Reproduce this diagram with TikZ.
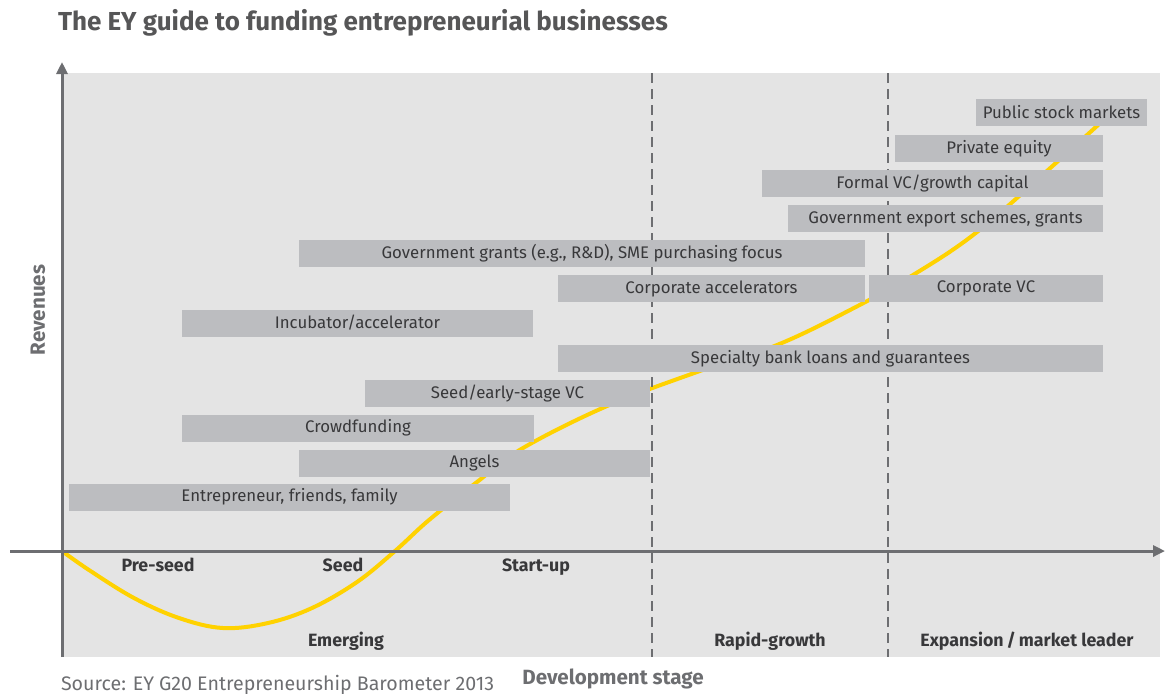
\documentclass[tikz,border=0pt]{standalone}
\usepackage{fontspec}
\setmainfont{Fira Sans}
\usepackage{xcolor}
\usepackage{tikz}
\usetikzlibrary{arrows.meta, positioning}
\definecolor{eygrey}{HTML}{6D6E71}
\definecolor{eybar}{HTML}{BCBDC0}
\definecolor{eypanel}{HTML}{E4E4E4}
\definecolor{eyyellow}{HTML}{FFD200}
\definecolor{eyink}{HTML}{38383A}
\tikzset{
  bar/.style={fill=eybar, minimum height=13.5pt, inner sep=0pt, font=\fontsize{8.4}{9}\selectfont, text=eyink},
  stage/.style={font=\fontsize{8.9}{10}\selectfont\bfseries, text=eyink, anchor=base},
  axlbl/.style={font=\fontsize{10.3}{11}\selectfont\bfseries, text=eygrey},
  arr/.style={-{Triangle[length=6pt, width=5.5pt]}, line width=1.5pt, eygrey},
  divider/.style={dash pattern=on 5pt off 3pt, line width=0.9pt, eygrey},
  curve/.style={line width=2pt, eyyellow}
}

\begin{document}
\begin{tikzpicture}[x=0.5pt, y=-0.5pt]
    \useasboundingbox (0,0) rectangle (1165,693);
    \fill[eypanel] (62,73) rectangle (1160,657);

    \coordinate (o) at (62,551);
    \coordinate (xend) at (1165,551);
    \coordinate (yend) at (62,62);
    \coordinate (xstart) at (10,551);
    \coordinate (ybot) at (62,657);

    % growth curve, under the bars
    \draw[curve] plot[smooth, tension=0.6] coordinates {(o) (89,570) (134,598) (179,618) (223,628) (268,623)
      (312,608) (357,582) (395,551) (429,520) (477,482) (523,448) (607,406) (697,372) (777,345) (850,310)
      (913,275) (977,232) (1057,162) (1120,105)};

    % stage dividers
    \draw[divider] (652,73) -- (652,657);
    \draw[divider] (888,73) -- (888,657);

    \draw[arr] (xstart) -- (xend);
    \draw[arr] (ybot) -- (yend);

    \node[bar, minimum width=85.5pt] (psm) at (1061.5,112.5) {Public stock markets};
    \node[bar, minimum width=104pt] (pe) at (999,148.5) {Private equity};
    \node[bar, minimum width=170.5pt] (fvc) at (932.5,183.5) {Formal VC/growth capital};
    \node[bar, minimum width=157.5pt] (ges) at (945.5,218.5) {Government export schemes, grants};
    \node[bar, minimum width=283pt] (ggr) at (582,253.5) {Government grants (e.g., R\&D), SME purchasing focus};
    \node[bar, minimum width=153.5pt] (cac) at (711.5,288.5) {Corporate accelerators};
    \node[bar, minimum width=117pt] (cvc) at (986,288.5) {Corporate VC};
    \node[bar, minimum width=175.5pt] (inc) at (357.5,323) {Incubator/accelerator};
    \node[bar, minimum width=272.5pt] (sbl) at (830.5,358.5) {Specialty bank loans and guarantees};
    \node[bar, minimum width=142.5pt] (sev) at (507.5,393) {Seed/early-stage VC};
    \node[bar, minimum width=176pt] (crf) at (358,428) {Crowdfunding};
    \node[bar, minimum width=175.5pt] (ang) at (474.5,463) {Angels};
    \node[bar, minimum width=220.5pt] (eff) at (289.5,497) {Entrepreneur, friends, family};

    \node[stage] (pre) at (158,571) {Pre-seed};
    \node[stage] (sd) at (343,571) {Seed};
    \node[stage] (su) at (536,571) {Start-up};
    \node[stage] (em) at (346,646) {Emerging};
    \node[stage] (rg) at (770,646) {Rapid-growth};
    \node[stage] (ex) at (1027,646) {Expansion\,/\,market leader};

    \node[axlbl, rotate=90] (rev) at (38,310) {Revenues};
    \node[axlbl] (dev) at (613,679) {Development stage};
    \node[anchor=west, text=eygrey, font=\fontsize{9.8}{11}\selectfont] (src) at (54,685) {Source: EY G20 Entrepreneurship Barometer 2013};
    \node[anchor=west, text=eyink!85, font=\fontsize{13}{15}\selectfont\bfseries] (ttl) at (51,23) {The EY guide to funding entrepreneurial businesses};
  \end{tikzpicture}
\end{document}
